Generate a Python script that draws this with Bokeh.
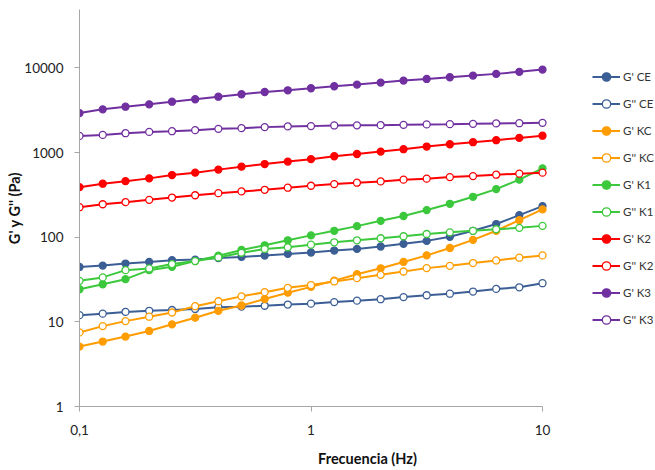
from bokeh.plotting import figure
from bokeh.models import FixedTicker, CustomJSTickFormatter, Legend, LegendItem, Range1d
from bokeh.embed import file_html
from bokeh.resources import INLINE

freq = [0.1, 0.126, 0.158, 0.2, 0.251, 0.316, 0.398, 0.501, 0.631, 0.794, 1,
        1.26, 1.58, 2, 2.51, 3.16, 3.98, 5.01, 6.31, 7.94, 10]

g1_ce = [44.5, 46.2, 48.8, 51, 53.4, 54.4, 56.8, 58.5, 60.7, 63.4, 65.9,
         69.5, 72.7, 77.6, 83.4, 90.4, 101, 119, 143, 182, 233]
g2_ce = [12.0, 12.5, 13.1, 13.5, 13.8, 14.2, 14.9, 15.1, 15.5, 16.0, 16.4,
         17.1, 17.8, 18.5, 19.6, 20.6, 21.5, 22.8, 24.5, 25.6, 28.6]
g1_kc = [5.1, 5.85, 6.7, 7.8, 9.35, 11.2, 13.5, 15.6, 18.6, 22.1, 25.9,
         30.7, 36.5, 42.9, 51, 61, 74.5, 93, 119, 159, 213]
g2_kc = [7.5, 8.9, 10.2, 11.5, 12.9, 15.3, 17.5, 20.0, 22.4, 25.2, 27.2,
         30.0, 32.8, 35.9, 39.3, 43.1, 45.9, 49.5, 53.1, 57.2, 60.9]
g1_k1 = [24.3, 27.8, 31.9, 40.8, 44.7, 52.2, 60.4, 70.6, 80.2, 91.9, 105,
         119, 135, 156, 178, 209, 248, 300, 370, 478, 650]
g2_k1 = [30.5, 33.5, 40.8, 42.7, 48.1, 52.2, 57.7, 65.5, 72.5, 76, 81.5,
         87, 91.9, 97.1, 102.5, 109, 114, 119, 124, 129, 136]
g1_k2 = [390, 428, 459, 495, 542, 578, 628, 681, 731, 781, 835,
         903, 961, 1026, 1094, 1177, 1253, 1324, 1398, 1489, 1580]
g2_k2 = [226, 245, 259, 276, 294, 313, 331, 347, 363, 384, 405,
         424, 440, 456, 478, 491, 513, 527, 547, 563, 578]
g1_k3 = [2924, 3236, 3475, 3707, 3981, 4256, 4564, 4875, 5188, 5433, 5745,
         6067, 6343, 6695, 7069, 7396, 7744, 8110, 8490, 8970, 9545]
g2_k3 = [1571, 1615, 1691, 1753, 1786, 1836, 1905, 1941, 1995, 2033, 2050,
         2087, 2095, 2105, 2122, 2147, 2163, 2183, 2207, 2220, 2243]

series = [
    ("G' CE", g1_ce, "#3B5E95", True),
    ("G'' CE", g2_ce, "#3B5E95", False),
    ("G' KC", g1_kc, "#FF9C00", True),
    ("G'' KC", g2_kc, "#FF9C00", False),
    ("G' K1", g1_k1, "#3CC83C", True),
    ("G'' K1", g2_k1, "#3CC83C", False),
    ("G' K2", g1_k2, "#FF0000", True),
    ("G'' K2", g2_k2, "#FF0000", False),
    ("G' K3", g1_k3, "#7030A0", True),
    ("G'' K3", g2_k3, "#7030A0", False),
]

x_ticks = [0.1, 1, 10]
y_ticks = [1, 10, 100, 1000, 10000]

FONT = "Lato"

# plotted x-axis spans 0.1..10 over 463 px; the frame is widened to hold the legend
AXIS_W = 463
FRAME_W = 576
x_end = 10 ** (2 * FRAME_W / AXIS_W - 1)

p = figure(frame_width=FRAME_W, frame_height=397, x_axis_type="log", y_axis_type="log",
           x_range=Range1d(0.1, x_end), y_range=Range1d(1, 48900),
           output_backend="svg", toolbar_location=None,
           min_border_left=79, min_border_right=0, min_border_top=9, min_border_bottom=62)
p.outline_line_color = None
p.grid.visible = False
p.background_fill_color = "white"
p.border_fill_color = "white"

items = []
for name, vals, color, filled in series:
    ln = p.line(freq, vals, line_color=color, line_width=2)
    sc = p.scatter(freq, vals, size=7, marker="circle", line_color=color, line_width=1.3,
                   fill_color=color if filled else "white")
    items.append(LegendItem(label=name, renderers=[ln, sc]))

fmt = CustomJSTickFormatter(code="return String(tick).replace('.', ',');")
for ax, ticks in ((p.xaxis[0], x_ticks), (p.yaxis[0], y_ticks)):
    ax.ticker = FixedTicker(ticks=ticks, minor_ticks=[])
    ax.formatter = fmt
    ax.axis_line_color = "#A6A6A6"
    ax.major_tick_line_color = "#A6A6A6"
    ax.major_tick_in = 0
    ax.major_tick_out = 5
    ax.minor_tick_line_color = None
    ax.major_label_text_font = FONT
    ax.major_label_text_font_size = "13.5px"
    ax.major_label_text_color = "#222222"
    ax.axis_label_text_font = FONT
    ax.axis_label_text_font_style = "bold"
    ax.axis_label_text_font_size = "14.5px"
    ax.axis_label_text_color = "#111111"

p.xaxis.bounds = (0.1, 10)
p.xaxis.axis_label = "Frecuencia (Hz)"
p.yaxis.axis_label = "G' y G'' (Pa)"
p.xaxis.major_label_standoff = 13
p.xaxis.axis_label_standoff = 12
p.yaxis.major_label_standoff = 11
p.yaxis.axis_label_standoff = -2

legend = Legend(items=items, location=(513, 76), glyph_width=28, glyph_height=21,
                label_height=21, spacing=6, padding=0, margin=0, label_standoff=3,
                border_line_color=None, background_fill_alpha=0,
                label_text_font=FONT, label_text_font_size="11.5px", label_text_color="#333333")
p.add_layout(legend, "center")

open("out.html", "w").write(file_html(p, INLINE))
